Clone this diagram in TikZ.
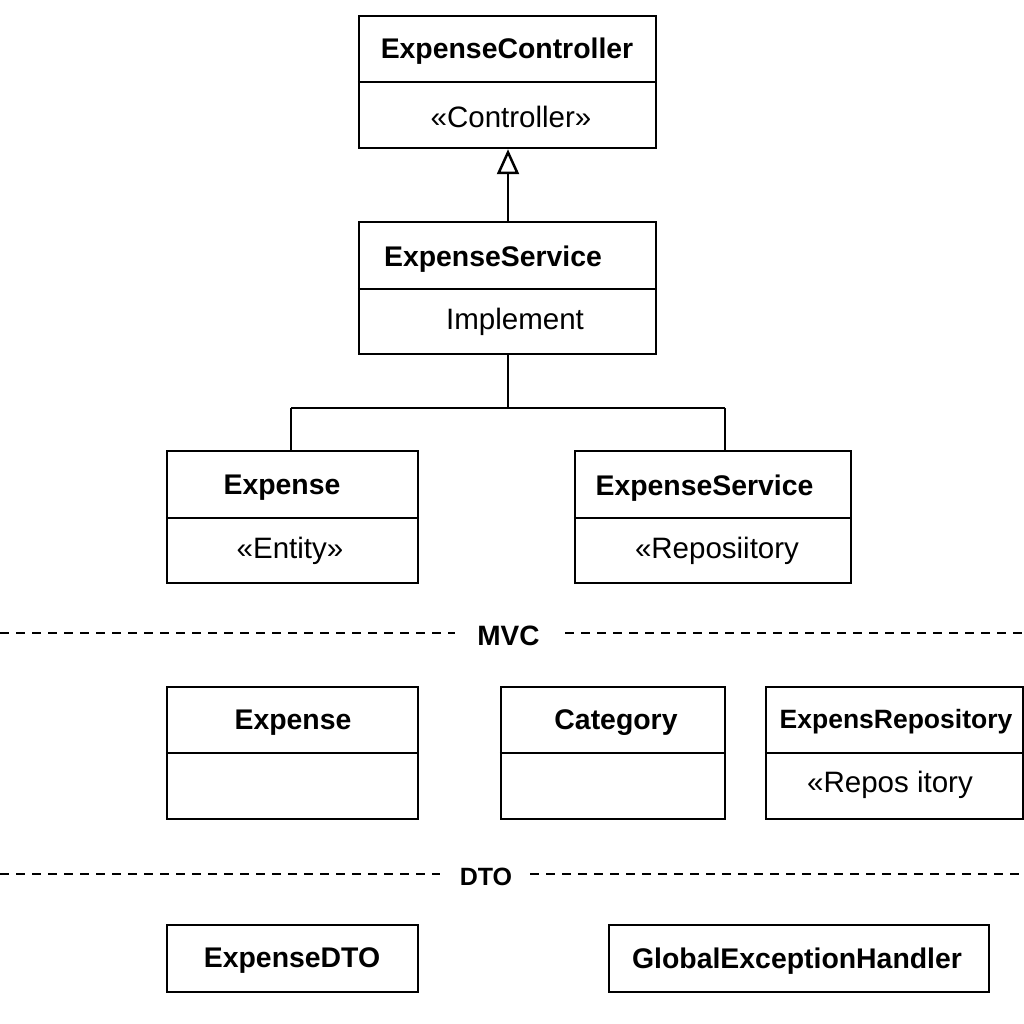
\documentclass[tikz,border=0pt]{standalone}
\usepackage{fontspec}
\setmainfont{Liberation Sans}
\usetikzlibrary{arrows.meta}
\begin{document}
\begin{tikzpicture}[x=1pt,y=-1pt,
  box/.style={draw, line width=2.5pt, rectangle, inner sep=0pt},
  ttl/.style={font=\bfseries\fontsize{28.4}{32}\selectfont, inner sep=0pt, anchor=center},
  ster/.style={font=\fontsize{29.5}{33}\selectfont, inner sep=0pt, anchor=center},
  divider/.style={line width=2.5pt},
  conn/.style={line width=2.5pt},
  dashline/.style={line width=2pt, dash pattern=on 9pt off 7pt},
  sep/.style={font=\bfseries\fontsize{28}{32}\selectfont, inner sep=0pt, anchor=center}
]
\useasboundingbox (0,0) rectangle (1024,1024);
\fill[white] (0,0) rectangle (1024,1024);

% ExpenseController
\node[box, minimum width=297pt, minimum height=132pt] (c1) at (507.5,82) {};
\draw[divider] (c1.west |- 0,82) -- (c1.east |- 0,82);
\node[ttl] (c1t) at (507,51) {ExpenseController};
\node[ster] (c1s) at (511,117) {«Controller»};

% ExpenseService (Implement)
\node[box, minimum width=297pt, minimum height=132pt] (s1) at (507.5,288) {};
\draw[divider] (s1.west |- 0,289) -- (s1.east |- 0,289);
\node[ttl] (s1t) at (493,259) {ExpenseService};
\node[ster] (s1s) at (515,322) {Implement};

% generalization arrow
\draw[conn, -{Triangle[open, width=22pt, length=25pt]}] (s1.north -| 508,0) -- (c1.south -| 508,0);

% Expense entity
\node[box, minimum width=251pt, minimum height=132pt] (e1) at (292.5,517) {};
\draw[divider] (e1.west |- 0,518) -- (e1.east |- 0,518);
\node[ttl] (e1t) at (282,488) {Expense};
\node[ster] (e1s) at (290,551) {«Entity»};

% ExpenseService repository
\node[box, minimum width=276pt, minimum height=132pt] (e2) at (713,517) {};
\draw[divider] (e2.west |- 0,518) -- (e2.east |- 0,518);
\node[ttl] (e2t) at (704.5,488) {ExpenseService};
\node[ster] (e2s) at (717,551) {«Reposiitory};

% tree connector
\coordinate (j) at (508,408);
\coordinate (jl) at (291,408);
\coordinate (jr) at (725,408);
\draw[conn] (s1.south -| j) -- (j);
\draw[conn] (jl) -- (jr);
\draw[conn] (jl) -- (jl |- e1.north);
\draw[conn] (jr) -- (jr |- e2.north);

% MVC separator
\node[sep] (mvc) at (508.5,636) {MVC};
\coordinate (mvcl0) at (0,633);
\coordinate (mvcl1) at (455,633);
\coordinate (mvcr0) at (565,633);
\coordinate (mvcr1) at (1024,633);
\draw[dashline] (mvcl0) -- (mvcl1);
\draw[dashline] (mvcr0) -- (mvcr1);

% Expense
\node[box, minimum width=251pt, minimum height=132pt] (m1) at (292.5,753) {};
\draw[divider] (m1.west |- 0,753) -- (m1.east |- 0,753);
\node[ttl] (m1t) at (293,723) {Expense};

% Category
\node[box, minimum width=224pt, minimum height=132pt] (m2) at (613,753) {};
\draw[divider] (m2.west |- 0,753) -- (m2.east |- 0,753);
\node[ttl] (m2t) at (616,723) {Category};

% ExpensRepository
\node[box, minimum width=257pt, minimum height=132pt] (m3) at (894.5,753) {};
\draw[divider] (m3.west |- 0,753) -- (m3.east |- 0,753);
\node[ttl, font=\bfseries\fontsize{26.5}{30}\selectfont] (m3t) at (896,722) {ExpensRepository};
\node[ster] (m3s) at (890,785) {«Repos itory};

% DTO separator
\node[sep, font=\bfseries\fontsize{25}{28}\selectfont] (dto) at (486,877) {DTO};
\coordinate (dtol0) at (0,874);
\coordinate (dtol1) at (440,874);
\coordinate (dtor0) at (530,874);
\coordinate (dtor1) at (1024,874);
\draw[dashline] (dtol0) -- (dtol1);
\draw[dashline] (dtor0) -- (dtor1);

% bottom boxes
\node[box, minimum width=251pt, minimum height=67pt] (d1) at (292.5,958.5) {};
\node[ttl] (d1t) at (292,961) {ExpenseDTO};
\node[box, minimum width=380pt, minimum height=67pt] (d2) at (799,958.5) {};
\node[ttl] (d2t) at (797,961) {GlobalExceptionHandler};
\end{tikzpicture}
\end{document}
